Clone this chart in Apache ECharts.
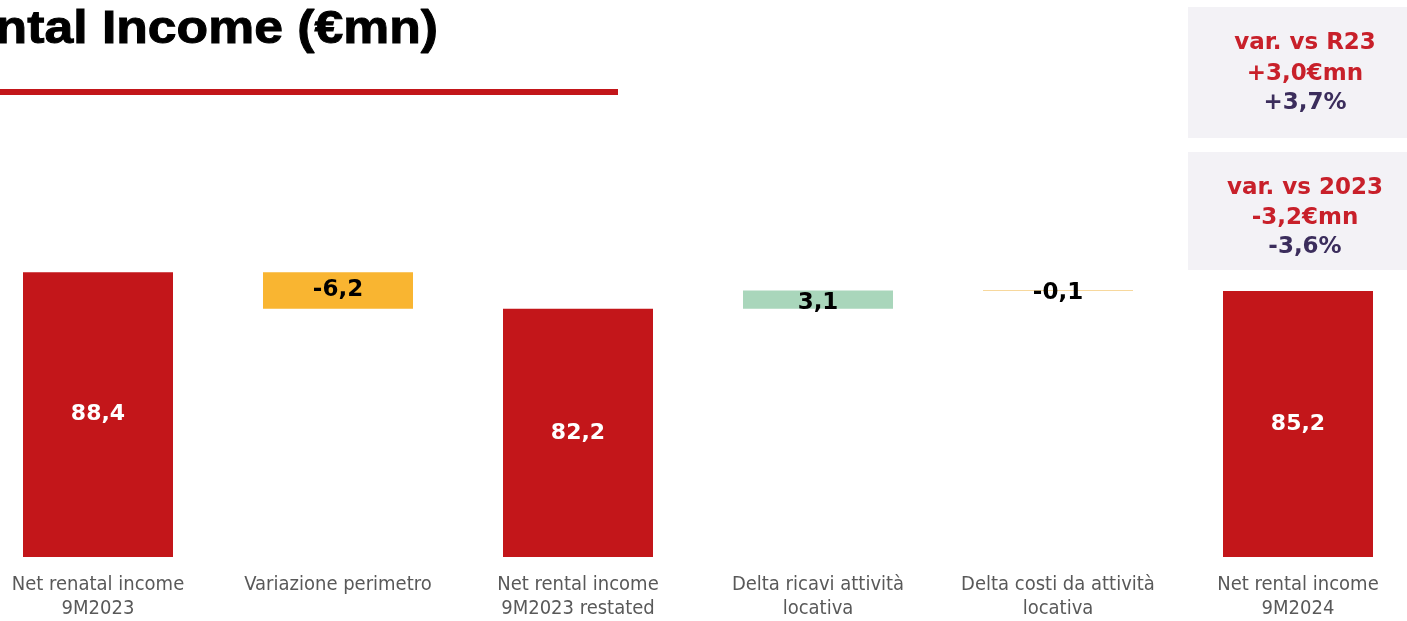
<!DOCTYPE html>
<html>
<head>
<meta charset="utf-8">
<style>
html, body { margin: 0; padding: 0; background: #fff; overflow: hidden; width: 1407px; height: 621px; }
#main { position: absolute; left: -22px; top: 0; width: 1440px; height: 621px; }
</style>
<script src="https://cdn.jsdelivr.net/npm/echarts@6/dist/echarts.min.js"></script>
</head>
<body>
<div id="main"></div>
<script>
// data
const categories = [
  'Net renatal income\n9M2023',
  'Variazione perimetro',
  'Net rental income\n9M2023 restated',
  'Delta ricavi attività\nlocativa',
  'Delta costi da attività\nlocativa',
  'Net rental income\n9M2024'
]
const values = [88.4, -6.2, 82.2, 3.1, -0.1, 85.2]
const isTotal = [true, false, true, false, false, true]
const barColors = ['#c3161a', '#f9b531', '#c3161a', '#a9d6bb', '#f0b23c', '#c3161a']
const boxR23 = ['var. vs R23', '+3,0€mn', '+3,7%']
const box2023 = ['var. vs 2023', '-3,2€mn', '-3,6%']

// base (invisible) + visible part of each bar
let base = []
let visible = []
let running = 0
for (let i = 0; i < values.length; i++) {
  if (isTotal[i]) {
    base.push(0)
    visible.push(values[i])
    running = values[i]
  } else {
    let next = running + values[i]
    base.push(Math.min(running, next))
    visible.push(Math.abs(values[i]))
    running = next
  }
}

const fmt = v => (v < 0 ? '-' : '') + Math.abs(v).toFixed(1).replace('.', ',')
const dx = 22 // the chart div is shifted left by this much
const boxFont = 'bold 23px "DejaVu Sans", sans-serif'

function boxText (x, y, text, color) {
  return {
    type: 'text', x: x + dx, y: y,
    style: { text: text, fill: color, font: boxFont, align: 'center', verticalAlign: 'middle' }
  }
}

let myChart = echarts.init(document.getElementById('main'))
myChart.setOption({
  animation: false,
  grid: { left: 0, right: 0, top: 204, bottom: 61, containLabel: false },
  xAxis: {
    type: 'category',
    data: categories,
    axisLine: { show: false },
    axisTick: { show: false },
    axisLabel: {
      interval: 0,
      margin: 16,
      color: '#595959',
      fontSize: 20,
      lineHeight: 24,
      fontFamily: 'DejaVu Sans Condensed, sans-serif'
    }
  },
  yAxis: {
    type: 'value',
    min: 40,
    max: 100,
    show: false,
    splitLine: { show: false }
  },
  series: [
    {
      type: 'bar',
      stack: 'wf',
      barWidth: 150,
      itemStyle: { color: 'transparent' },
      data: base,
      silent: true
    },
    {
      type: 'bar',
      stack: 'wf',
      barWidth: 150,
      data: visible.map((v, i) => ({
        value: v,
        itemStyle: { color: barColors[i] },
        label: {
          show: true,
          position: 'inside',
          formatter: fmt(values[i]),
          color: isTotal[i] ? '#ffffff' : '#000000',
          fontSize: isTotal[i] ? 22 : 23,
          fontWeight: 'bold',
          fontFamily: 'DejaVu Sans, sans-serif',
          offset: i == 3 ? [0, 3] : (i == 4 ? [0, 2] : [0, 0])
        }
      }))
    }
  ],
  graphic: [
    {
      type: 'text',
      x: 438 + dx,
      y: 30,
      scaleX: 1.1,
      style: {
        text: 'Net Rental Income (€mn)',
        font: 'bold 47px "Liberation Sans", Arial, sans-serif',
        fill: '#000',
        stroke: '#000',
        lineWidth: 1,
        align: 'right',
        verticalAlign: 'middle'
      }
    },
    { type: 'rect', shape: { x: dx, y: 89, width: 618, height: 6 }, style: { fill: '#c3161a' } },
    { type: 'rect', shape: { x: 1188 + dx, y: 7, width: 219, height: 131 }, style: { fill: '#f3f2f6' } },
    { type: 'rect', shape: { x: 1188 + dx, y: 152, width: 219, height: 118 }, style: { fill: '#f3f2f6' } },
    boxText(1305, 43, boxR23[0], '#c8202a'),
    boxText(1305, 74, boxR23[1], '#c8202a'),
    boxText(1305, 103, boxR23[2], '#3b2d5c'),
    boxText(1305, 188, box2023[0], '#c8202a'),
    boxText(1305, 218, box2023[1], '#c8202a'),
    boxText(1305, 247, box2023[2], '#3b2d5c')
  ]
})
</script>
</body>
</html>
